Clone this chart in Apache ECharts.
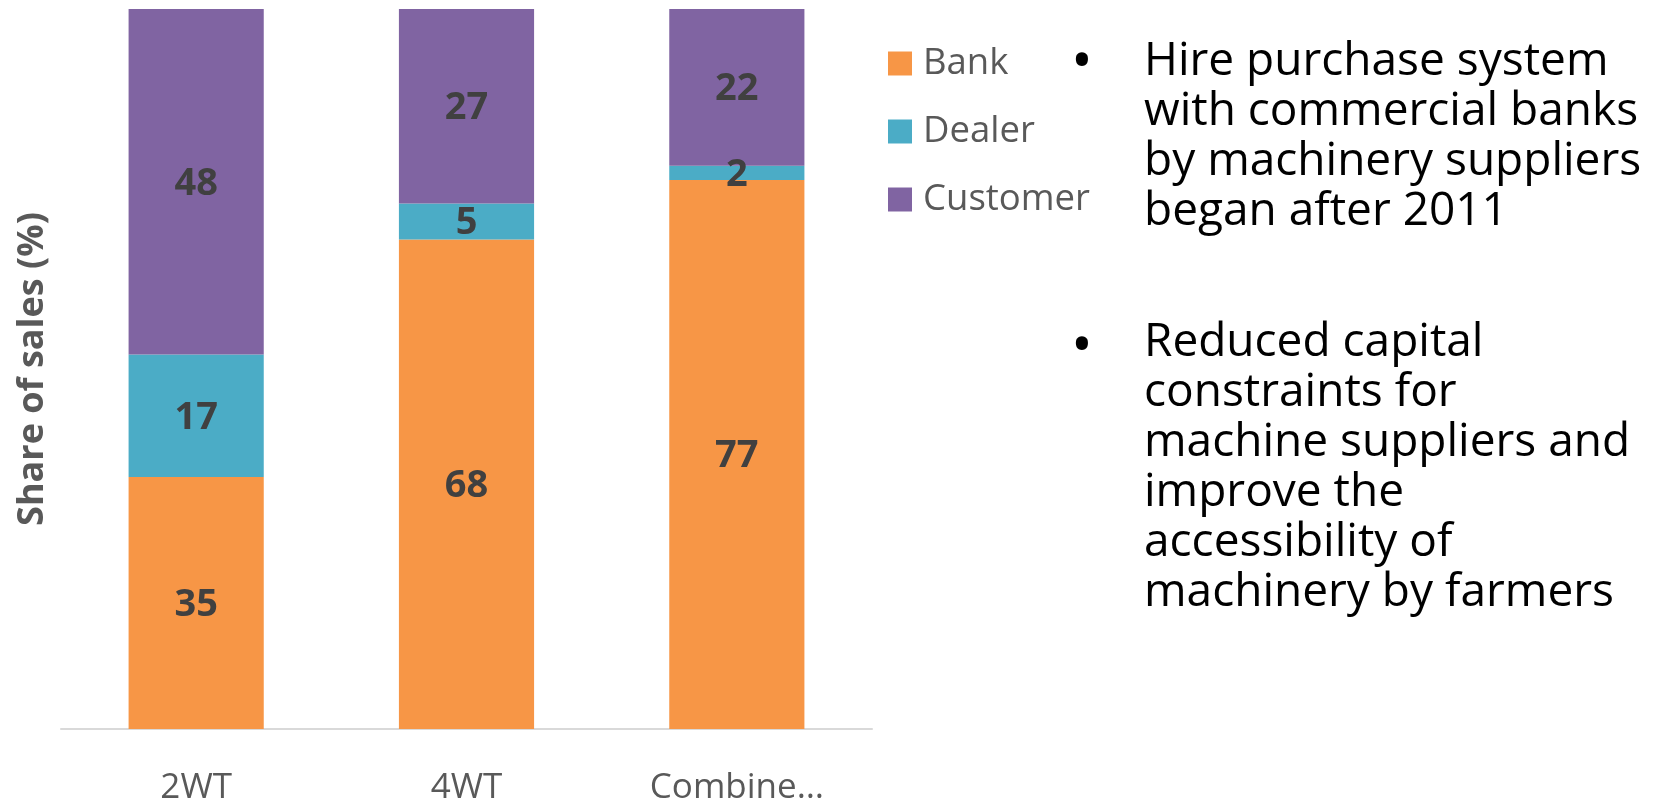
<!DOCTYPE html>
<html>
<head>
<meta charset="utf-8">
<script src="https://cdn.jsdelivr.net/npm/echarts@6/dist/echarts.min.js"></script>
<style>
  html, body { margin: 0; padding: 0; background: #fff; }
  #container { width: 1661px; height: 800px; }
</style>
</head>
<body>
<div id="container"></div>
<script>
var categories = ['2WT', '4WT', 'Combine…'];
var bank = [35, 68, 77];
var dealer = [17, 5, 2];
var customer = [48, 27, 22];

var seriesNames = ['Bank', 'Dealer', 'Customer'];
var seriesColors = ['#F79646', '#4BACC6', '#8064A2'];
var rawValues = [bank, dealer, customer];

// 100% stacked: each column is scaled to its own total
var totals = categories.map(function (c, i) {
  return bank[i] + dealer[i] + customer[i];
});

var notes1 = ['Hire purchase system', 'with commercial banks', 'by machinery suppliers', 'began after 2011'];
var notes2 = ['Reduced capital', 'constraints for', 'machine suppliers and', 'improve the', 'accessibility of', 'machinery by farmers'];

var font = '"Open Sans", sans-serif';

var dom = document.getElementById('container');
var myChart = echarts.init(dom);

var series = seriesNames.map(function (name, k) {
  return {
    name: name,
    type: 'bar',
    stack: 'total',
    barWidth: '50%',
    itemStyle: { color: seriesColors[k] },
    label: {
      show: true,
      position: 'inside',
      offset: [0, 2],
      fontFamily: font,
      fontSize: 38,
      fontWeight: 'bold',
      color: '#404040',
      formatter: function (p) {
        return rawValues[k][p.dataIndex];
      }
    },
    data: rawValues[k].map(function (v, i) {
      return v / totals[i] * 100;
    })
  };
});

option = {
  animation: false,
  grid: {
    left: 61,
    right: 789,
    top: 9,
    bottom: 71,
    containLabel: false,
    outerBoundsMode: 'none'
  },
  legend: {
    orient: 'vertical',
    left: 888,
    top: 45,
    padding: 0,
    itemWidth: 24,
    itemHeight: 24,
    itemGap: 31,
    selectedMode: false,
    icon: 'rect',
    textStyle: { fontFamily: font, fontSize: 36.5, color: '#595959', padding: [0, 0, 0, 6] },
    data: seriesNames
  },
  xAxis: {
    type: 'category',
    data: categories,
    axisLine: { lineStyle: { color: '#d9d9d9', width: 2 } },
    axisTick: { show: false },
    axisLabel: {
      fontFamily: font,
      fontSize: 35,
      color: '#595959',
      margin: 42
    }
  },
  yAxis: {
    type: 'value',
    min: 0,
    max: 100,
    name: 'Share of sales (%)',
    nameLocation: 'middle',
    nameGap: 10,
    nameTextStyle: {
      fontFamily: font,
      fontSize: 36,
      fontWeight: 'bold',
      color: '#595959'
    },
    axisLine: { show: false },
    axisTick: { show: false },
    axisLabel: { show: false },
    splitLine: { show: false }
  },
  graphic: [
    {
      type: 'text', x: 1082, y: 64,
      style: { text: '•', font: '58px ' + font, fill: '#000', align: 'center', verticalAlign: 'middle' }
    },
    {
      type: 'text', x: 1082, y: 348,
      style: { text: '•', font: '58px ' + font, fill: '#000', align: 'center', verticalAlign: 'middle' }
    },
    {
      type: 'text', left: 1144, top: 37,
      style: { text: notes1.join('\n'), font: '46px ' + font, lineHeight: 50, fill: '#000' }
    },
    {
      type: 'text', left: 1144, top: 318,
      style: { text: notes2.join('\n'), font: '46px ' + font, lineHeight: 50, fill: '#000' }
    }
  ],
  series: series
};
myChart.setOption(option, true);
</script>
</body>
</html>
